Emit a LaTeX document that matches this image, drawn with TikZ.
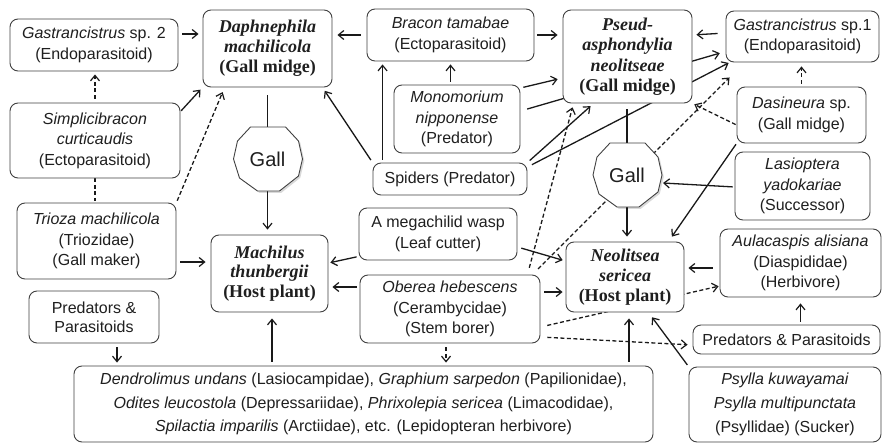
\documentclass[tikz,border=0pt]{standalone}
\usepackage{fontspec}
\setmainfont{Liberation Sans}
\newfontfamily\serifb{Liberation Serif}
\usetikzlibrary{arrows.meta,calc,backgrounds}
\begin{document}
\begin{tikzpicture}[x=1pt,y=-1pt,
  box/.style={draw=black!75, line width=0.9pt, rounded corners=8pt, fill=white, align=center, inner sep=0pt, font=\fontsize{16}{20.5}\selectfont, text=black!88},
  hbox/.style={box, font=\serifb\fontsize{18}{20}\selectfont\bfseries},
  gallnode/.style={circle, minimum size=64pt, inner sep=0pt, font=\fontsize{20}{24}\selectfont, text=black!88},
  gallpath/.style={draw=black!75, line width=0.9pt, fill=white},
  conn/.style={line width=1.3pt, draw=black!90},
  arr/.style={conn, -{Straight Barb[length=5.5pt,width=9pt,line width=1.2pt]}},
  dsh/.style={dash pattern=on 4pt off 2.5pt},
]
\useasboundingbox (0,0) rectangle (883,444);

% ---- boxes ----
\node[box, minimum width=168pt, minimum height=52pt] (gs2) at (94,45) {\textit{Gastrancistrus} sp. 2\\(Endoparasitoid)};
\node[hbox, minimum width=129pt, minimum height=77pt] (daph) at (267.5,48.5) {\textit{Daphnephila}\\\textit{machilicola}\\(Gall midge)};
\node[box, minimum width=167pt, minimum height=52pt] (brac) at (450.5,35) {\textit{Bracon tamabae}\\(Ectoparasitoid)};
\node[hbox, minimum width=129pt, minimum height=93pt, font=\serifb\fontsize{18}{20.5}\selectfont\bfseries] (pseud) at (627.5,56.5) {\textit{Pseud-}\\\textit{asphondylia}\\\textit{neolitseae}\\(Gall midge)};
\node[box, minimum width=153pt, minimum height=51pt] (gs1) at (802.5,36.5) {\textit{Gastrancistrus} sp.1\\(Endoparasitoid)};
\node[box, minimum width=170pt, minimum height=75pt] (simp) at (95,140.5) {\textit{Simplicibracon}\\\textit{curticaudis}\\(Ectoparasitoid)};
\node[box, minimum width=126pt, minimum height=68pt] (mono) at (457,119) {\textit{Monomorium}\\\textit{nipponense}\\(Predator)};
\node[box, minimum width=129pt, minimum height=56pt] (dasi) at (801.5,115) {\textit{Dasineura} sp.\\(Gall midge)};
\node[box, minimum width=154pt, minimum height=32pt] (spid) at (450,179) {Spiders (Predator)};
\node[box, minimum width=135pt, minimum height=68pt] (lasi) at (802.5,186) {\textit{Lasioptera}\\\textit{yadokariae}\\(Successor)};
\node[box, minimum width=159pt, minimum height=76pt] (trioza) at (96.5,241) {\textit{Trioza machilicola}\\(Triozidae)\\(Gall maker)};
\node[hbox, minimum width=117pt, minimum height=77pt, font=\serifb\fontsize{18}{19.5}\selectfont\bfseries] (mach) at (269.5,273.5) {\textit{Machilus}\\\textit{thunbergii}\\(Host plant)};
\node[box, minimum width=158pt, minimum height=52pt] (mega) at (438,234) {A megachilid wasp\\(Leaf cutter)};
\node[box, minimum width=180pt, minimum height=68pt] (ober) at (450,309) {\textit{Oberea hebescens}\\(Cerambycidae)\\(Stem borer)};
\node[hbox, minimum width=118pt, minimum height=70pt] (neol) at (625,277) {\textit{Neolitsea}\\\textit{sericea}\\(Host plant)};
\node[box, minimum width=161pt, minimum height=68pt] (aula) at (800.5,263) {\textit{Aulacaspis alisiana}\\(Diaspididae)\\(Herbivore)};
\node[box, minimum width=130pt, minimum height=52pt, font=\fontsize{16}{19}\selectfont] (ppL) at (94,317) {Predators \&\\Parasitoids};
\node[box, minimum width=187pt, minimum height=29pt] (ppR) at (786.5,339.5) {Predators \& Parasitoids};
\node[box, minimum width=579pt, minimum height=76pt, font=\fontsize{16}{23.5}\selectfont] (lepi) at (363.5,404) {\textit{Dendrolimus undans} (Lasiocampidae), \textit{Graphium sarpedon} (Papilionidae),\\\textit{Odites leucostola} (Depressariidae), \textit{Phrixolepia sericea} (Limacodidae),\\\textit{Spilactia imparilis} (Arctiidae), etc. (Lepidopteran herbivore)};
\node[box, minimum width=192pt, minimum height=75pt, font=\fontsize{16}{24}\selectfont] (psyl) at (785,404.5) {\textit{Psylla kuwayamai}\\\textit{Psylla multipunctata}\\(Psyllidae) (Sucker)};

% ---- galls ----
\foreach \cx/\cy in {267.5/159, 627/175} {
  \begin{scope}[shift={(\cx,\cy)}]
    \fill[black, opacity=0.15, shift={(1.8,1.8)}] (-17,-32) -- (18,-32) -- (31,-18) -- (35,0) -- (31,17) -- (12,32) -- (-10,32) -- (-28,19) -- (-34,0) -- (-30,-18) -- cycle;
    \path[gallpath] (-17,-32) -- (18,-32) -- (31,-18) -- (35,0) -- (31,17) -- (12,32) -- (-10,32) -- (-28,19) -- (-34,0) -- (-30,-18) -- cycle;
  \end{scope}
}
\node[gallnode] (gallL) at (267.5,159) {Gall};
\node[gallnode] (gallR) at (627,175) {Gall};

\coordinate (nb) at ($(neol.south)+(4,0)$);
\coordinate (mb) at ($(mach.south)+(2.5,0)$);
\coordinate (pb) at ($(ppL.south)+(23,0)$);
\coordinate (ob) at ($(ober.south)+(-4,0)$);

% ---- connectors (behind boxes) ----
\begin{pgfonlayer}{background}
\draw[arr, shorten <=4pt, shorten >=4pt] ($(gs2.east)+(0,-11)$) -- ($(daph.west)+(0,-14.5)$);
\draw[arr, dsh, shorten <=4pt, shorten >=3pt] (simp.north) -- (simp.north |- gs2.south);
\draw[arr, shorten <=1pt, shorten >=3pt] ($(simp.north east)+(0,9)$) -- (daph.south west);
\draw[arr, dsh, shorten <=2pt, shorten >=5pt] (trioza.north east) -- ($(daph.south west)+(22,0)$);
\draw[conn, dsh, shorten >=2pt] (simp.south) -- (simp.south |- trioza.north);
\draw[arr, shorten <=4pt, shorten >=5pt] ($(trioza.east)+(0,21)$) -- ($(mach.west)+(0,-11.5)$);
\draw[arr, shorten <=6pt, shorten >=5pt] (brac.west) -- ($(daph.east)+(0,-13.5)$);
\draw[arr, shorten <=3pt, shorten >=5pt] (brac.east) -- ($(pseud.west)+(0,-21.5)$);
\draw[arr, shorten <=3pt, shorten >=3pt] (brac.south |- mono.north) -- (brac.south);
\draw[arr, shorten <=3pt, shorten >=5pt] ($(mono.east)+(0,-31)$) -- ($(pseud.west)+(0,21.5)$);
\draw[arr, shorten <=7pt, shorten >=6pt] ($(mono.east)+(0,-8)$) -- ($(gs1.west)+(0,15)$);
\draw[arr, shorten <=3pt, shorten >=4pt] (spid.north east) -- ($(pseud.south west)+(31,0)$);
\draw[arr, shorten <=5pt, shorten >=1pt] ($(spid.east)+(0,-12)$) -- ($(gs1.south west)+(4,0)$);
\draw[arr, shorten <=3pt, shorten >=4pt] (spid.north west) -- ($(daph.south east)+(-10,0)$);
\draw[arr, shorten <=3pt, shorten >=3pt] ($(spid.north west)+(10,0)$) -- ($(brac.south west)+(16,0)$);
\draw[arr, dsh, shorten <=7pt, shorten >=4pt] ($(ober.north east)+(-13,0)$) -- ($(pseud.south west)+(11,0)$);
\draw[arr, dsh, shorten <=8pt] ($(ober.north east)+(-8,0)$) -- ($(gs1.south west)+(4,15)$);
\draw[arr, dsh, shorten <=1pt, shorten >=2pt] ($(dasi.west)+(0,10)$) -- (pseud.south east);
\draw[arr, dsh, shorten <=3pt, shorten >=4pt] (dasi.north) -- (dasi.north |- gs1.south);
\draw[arr, shorten <=8pt, shorten >=4pt] ($(gs1.west)+(0,-3.5)$) -- ($(pseud.east)+(0,-21.5)$);
\draw[arr, shorten <=1pt, shorten >=6pt] (dasi.south west) -- ($(neol.north east)+(-16,0)$);
\draw[arr, shorten <=2pt] ($(lasi.west)+(0,1)$) -- ($(gallR)+(36,8)$);
\draw[arr, shorten >=5pt] (gallR.south) -- (gallR.south |- neol.north);
\draw[conn, shorten <=6pt] (gallR.north |- pseud.south) -- (gallR.north);
\draw[conn, shorten <=8pt] (gallL.north |- daph.south) -- (gallL.north);
\draw[arr, shorten >=5pt] (gallL.south) -- (gallL.south |- mach.north);
\draw[arr, shorten <=2pt, shorten >=2pt] ($(mega.south west)+(0,-4)$) -- ($(mach.east)+(0,-10.5)$);
\draw[arr, shorten <=4pt, shorten >=3pt] ($(mega.east)+(0,13)$) -- ($(neol.west)+(0,-16)$);
\draw[arr, shorten <=3pt, shorten >=4pt] ($(ober.west)+(0,-22)$) -- ($(mach.east)+(0,13.5)$);
\draw[arr, shorten <=4pt, shorten >=3pt] ($(ober.east)+(0,-17)$) -- ($(neol.west)+(0,15)$);
\draw[arr, dsh, shorten <=7pt, shorten >=1pt] ($(ober.east)+(0,18)$) -- ($(aula.west)+(0,23)$);
\draw[arr, shorten <=7pt, shorten >=4pt] ($(aula.west)+(0,5)$) -- ($(neol.east)+(0,-9)$);
\draw[arr, shorten <=3pt, shorten >=6pt] (aula.south |- ppR.north) -- (aula.south);
\draw[arr, dsh, shorten <=7pt, shorten >=5pt] ($(ober.east)+(0,28)$) -- ($(ppR.west)+(0,5.5)$);
\draw[arr, shorten <=4pt, shorten >=6pt] (nb |- lepi.north) -- (nb);
\draw[arr, shorten <=2pt, shorten >=6pt] (psyl.north west) -- ($(neol.south east)+(-36,0)$);
\draw[arr, shorten <=4pt, shorten >=6pt] (mb |- lepi.north) -- (mb);
\draw[arr, shorten <=4pt, shorten >=3pt] (pb) -- (pb |- lepi.north);
\draw[arr, dsh, shorten <=4pt, shorten >=3pt] (ob) -- (ob |- lepi.north);
\end{pgfonlayer}
\end{tikzpicture}
\end{document}
